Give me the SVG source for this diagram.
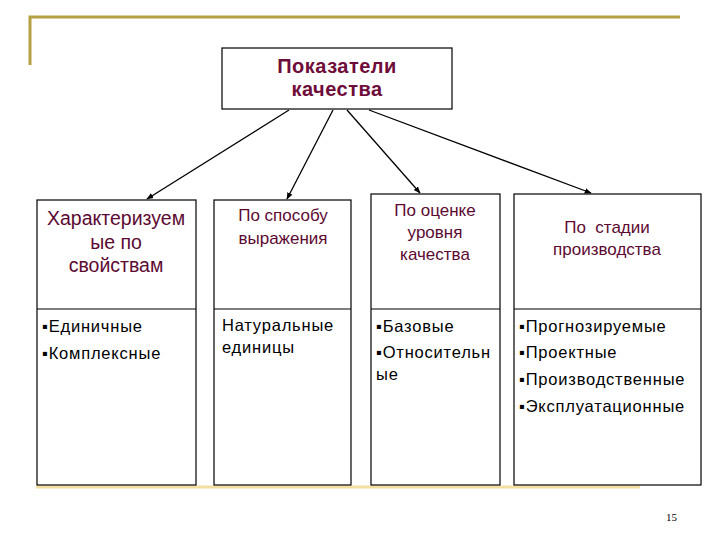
<svg xmlns="http://www.w3.org/2000/svg" width="720" height="540" viewBox="0 0 720 540">
<defs>
<marker id="ah" viewBox="0 0 10 10" refX="9" refY="5" markerWidth="7" markerHeight="7" orient="auto" markerUnits="userSpaceOnUse">
<path d="M0,1 L10,5 L0,9 Z" fill="#000"/>
</marker>
</defs>
<style>
.box{fill:#fff;stroke:#000;stroke-width:1.2}
.div{stroke:#000;stroke-width:1.2}
.gold{stroke:#b5a042;stroke-width:3;fill:none}
.conn{stroke:#000;stroke-width:1.3;fill:none;marker-end:url(#ah)}
.title{font-family:"Liberation Sans",Arial,sans-serif;font-weight:bold;font-size:20px;letter-spacing:0.5px;fill:#6e0c3a;text-anchor:middle}
.head{font-family:"Liberation Sans",Arial,sans-serif;font-size:17px;fill:#5c0a32;text-anchor:middle}
.head1{font-size:19.5px}
.item{font-family:"Liberation Sans",Arial,sans-serif;font-size:16.5px;letter-spacing:0.8px;fill:#000}
.pg{font-family:"Liberation Serif",serif;font-size:11px;fill:#000}
</style>
<rect width="720" height="540" fill="#fff"/>
<g id="frame">
<path class="gold" d="M30,65 L30,17 L680,17"/>
<line x1="36" y1="487" x2="640" y2="487" stroke="#f3dfa0" stroke-width="3"/>
</g>
<g id="connectors">
<line class="conn" x1="289" y1="110" x2="147" y2="199"/>
<line class="conn" x1="333" y1="110" x2="287" y2="199"/>
<line class="conn" x1="347" y1="110" x2="420" y2="193"/>
<line class="conn" x1="369" y1="110" x2="591" y2="193"/>
</g>
<g id="root">
<rect class="box" x="222" y="48" width="230" height="61"/>
<text class="title" x="337" y="73">Показатели</text>
<text class="title" x="337" y="96">качества</text>
</g>
<g id="n1">
<rect class="box" x="37" y="200" width="159" height="285"/>
<line class="div" x1="37" y1="309" x2="196" y2="309"/>
<text class="head head1" x="116" y="225">Характеризуем</text>
<text class="head head1" x="116" y="249">ые по</text>
<text class="head head1" x="116" y="272">свойствам</text>
<text class="item" x="42" y="332">▪Единичные</text>
<text class="item" x="42" y="359">▪Комплексные</text>
</g>
<g id="n2">
<rect class="box" x="214" y="200" width="137" height="285"/>
<line class="div" x1="214" y1="309" x2="351" y2="309"/>
<text class="head" x="283" y="221">По способу</text>
<text class="head" x="283" y="244">выражения</text>
<text class="item" x="222" y="331">Натуральные</text>
<text class="item" x="222" y="353">единицы</text>
</g>
<g id="n3">
<rect class="box" x="371" y="194" width="129" height="291"/>
<line class="div" x1="371" y1="309" x2="500" y2="309"/>
<text class="head" x="435" y="216">По оценке</text>
<text class="head" x="435" y="238">уровня</text>
<text class="head" x="435" y="260">качества</text>
<text class="item" x="376" y="332">▪Базовые</text>
<text class="item" x="376" y="358">▪Относительн</text>
<text class="item" x="376" y="380">ые</text>
</g>
<g id="n4">
<rect class="box" x="514" y="194" width="187" height="291"/>
<line class="div" x1="514" y1="309" x2="701" y2="309"/>
<text class="head" x="607" y="233" xml:space="preserve">По  стадии</text>
<text class="head" x="607" y="255">производства</text>
<text class="item" x="519" y="332">▪Прогнозируемые</text>
<text class="item" x="519" y="358">▪Проектные</text>
<text class="item" x="519" y="385">▪Производственные</text>
<text class="item" x="519" y="412">▪Эксплуатационные</text>
</g>
<text class="pg" x="666" y="521">15</text>
</svg>
